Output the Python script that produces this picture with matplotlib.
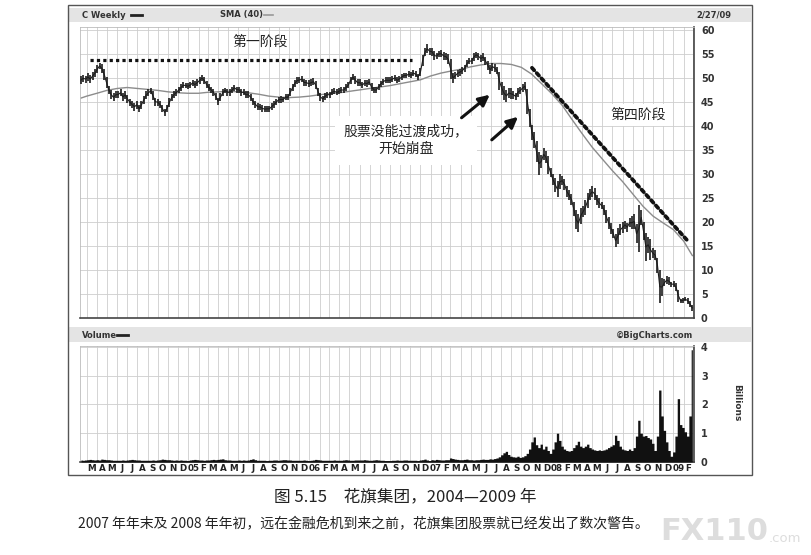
import matplotlib
matplotlib.use('Agg')
import matplotlib.pyplot as plt
import matplotlib.dates as mdates
from matplotlib.patches import Rectangle
from matplotlib.lines import Line2D
import numpy as np
import pandas as pd

plt.rcParams['font.family'] = ['DejaVu Sans']
CJK = ['Noto Sans CJK SC', 'DejaVu Sans']

# ---------------- data (weekly) ----------------
hi_2004 = [50.3, 50.6, 50.5,
           51.0, 50.6, 51.2, 51.8,
           52.6, 53.2, 52.9, 51.8, 50.2,
           48.4, 47.4, 46.8, 47.2,
           47.3, 47.6, 46.9, 47.2,
           46.4, 45.7, 45.2, 44.8, 45.2,
           44.3, 45.2, 46.2, 47.2,
           47.6, 48.0, 47.2, 45.9,
           45.7, 45.2, 44.4, 43.6, 44.4,
           45.8, 46.7, 47.2, 47.6,
           48.1, 48.7, 49.1, 49.0, 48.9]
lo_2004 = [48.8, 49.2, 49.0,
           49.4, 48.9, 49.6, 50.2,
           51.0, 51.8, 51.0, 49.6, 47.8,
           46.6, 45.6, 45.1, 45.8,
           45.8, 46.2, 45.2, 45.7,
           44.8, 44.2, 43.7, 43.2, 43.6,
           42.9, 43.6, 44.6, 45.6,
           46.2, 46.6, 45.3, 44.2,
           44.2, 43.7, 42.8, 42.1, 42.8,
           44.0, 45.1, 45.8, 46.3,
           46.8, 47.3, 47.8, 47.9, 47.6]
hi_2005 = [49.2, 49.6, 49.3, 49.7,
           50.1, 50.6, 50.2, 49.4,
           48.7, 48.2, 47.7, 46.9,
           45.9, 46.8, 47.6, 48.0, 47.7,
           47.7, 48.1, 48.6, 48.2,
           48.1, 47.7, 47.6, 47.2,
           47.2, 46.7, 45.9, 45.2, 44.7,
           44.6, 44.3, 44.1, 44.2,
           44.2, 44.7, 45.1, 45.6, 46.1,
           46.2, 46.1, 46.7, 46.6,
           47.8, 48.7, 49.6, 50.1,
           50.2, 50.4, 49.8, 49.6, 49.5]
lo_2005 = [47.8, 48.3, 47.9, 48.3,
           48.8, 49.3, 48.8, 47.9,
           47.3, 46.8, 46.3, 45.3,
           44.4, 45.2, 46.2, 46.8, 46.3,
           46.3, 46.8, 47.3, 46.9,
           46.9, 46.3, 46.4, 45.8,
           45.8, 45.2, 44.3, 43.8, 43.3,
           43.3, 43.0, 42.9, 42.9,
           42.9, 43.3, 43.8, 44.3, 44.8,
           44.8, 44.9, 45.3, 45.4,
           46.2, 47.2, 48.2, 48.8,
           48.9, 49.1, 48.3, 48.4, 48.1]
hi_2006 = [49.7, 49.9, 49.3, 48.0,
           46.9, 46.3, 46.8, 47.1,
           47.1, 47.6, 47.8, 47.6, 47.8,
           48.1, 48.1, 48.7, 49.2,
           50.2, 50.8, 50.3, 49.7,
           49.7, 49.2, 49.6, 49.5, 49.8,
           48.9, 48.2, 48.1, 48.8,
           49.4, 49.8, 50.1, 50.1,
           50.1, 50.3, 50.6, 50.1, 50.4,
           50.8, 51.1, 51.1, 51.4,
           51.2, 51.6, 51.4, 50.9,
           52.0, 54.8, 56.2, 57.0, 56.3]
lo_2006 = [48.3, 48.5, 47.7, 46.2,
           45.2, 44.9, 45.5, 45.9,
           45.9, 46.4, 46.6, 46.4, 46.6,
           46.9, 46.8, 47.3, 47.8,
           48.8, 49.5, 48.8, 48.3,
           48.3, 47.8, 48.3, 48.1, 48.5,
           47.3, 46.8, 46.8, 47.5,
           48.1, 48.6, 48.9, 48.9,
           48.9, 49.2, 49.4, 48.9, 49.2,
           49.6, 49.9, 49.9, 50.2,
           49.9, 50.4, 50.1, 49.5,
           50.3, 52.5, 54.6, 55.1, 54.8]
hi_2007 = [56.3, 55.5, 55.2, 55.7,
           55.8, 55.3, 55.2, 54.9,
           54.0, 51.0, 51.2, 51.7, 51.9,
           52.2, 52.7, 53.7, 54.2,
           54.2, 55.1, 55.4, 55.2,
           54.8, 55.1, 54.4, 53.5, 52.6,
           53.2, 52.9, 52.3, 51.2,
           49.2, 48.3, 47.5, 47.9, 47.8,
           47.3, 46.9, 48.0, 48.2,
           48.7, 49.2, 47.6, 43.6,
           40.2, 38.8, 36.8, 34.5, 34.0,
           35.3, 34.8, 33.7, 31.3]
lo_2007 = [54.6, 53.8, 53.9, 54.3,
           54.3, 53.8, 53.7, 52.8,
           49.8, 49.0, 49.7, 50.2, 50.5,
           50.8, 51.3, 52.2, 52.8,
           52.8, 53.6, 54.2, 53.8,
           53.3, 53.6, 52.7, 51.7, 50.8,
           51.5, 51.2, 50.8, 47.5,
           46.5, 45.3, 45.0, 45.8, 45.6,
           45.7, 45.4, 46.0, 46.6,
           47.1, 47.4, 42.5, 39.8,
           37.0, 35.3, 32.5, 29.8, 31.2,
           32.9, 32.2, 30.0, 29.3]
hi_2008 = [30.0, 29.2, 28.5, 29.9,
           29.6, 29.0, 27.4, 26.6, 25.9,
           24.2, 22.5, 21.6, 23.0,
           23.3, 24.6, 26.0, 26.9,
           27.5, 27.1, 25.6, 24.9, 24.2,
           23.6, 22.4, 21.0, 19.8,
           18.5, 17.4, 18.8, 19.5,
           19.9, 20.2, 19.8, 20.8, 21.2,
           21.6, 19.5, 23.5, 22.5,
           20.0, 17.8, 16.9, 16.4, 14.6,
           14.1, 12.5, 9.9, 8.3,
           8.1, 8.7, 8.5, 7.6]
lo_2008 = [27.8, 26.3, 25.1, 26.8,
           27.6, 26.7, 25.3, 24.5, 23.5,
           21.2, 18.5, 17.9, 19.6,
           21.0, 21.5, 22.9, 24.6,
           25.1, 24.6, 23.5, 22.9, 22.6,
           21.4, 19.8, 18.6, 17.5,
           16.6, 14.8, 15.4, 17.2,
           17.8, 18.6, 18.0, 18.9, 18.5,
           18.6, 15.6, 13.8, 19.4,
           16.2, 11.8, 13.6, 12.0, 12.4,
           12.1, 9.4, 3.1, 4.6,
           6.6, 7.1, 6.8, 6.5]
hi_2009 = [7.7, 7.2, 5.9, 4.0, 4.2, 4.3, 4.2, 3.5, 2.7]
lo_2009 = [6.4, 5.6, 3.4, 3.1, 3.2, 3.5, 3.0, 2.3, 1.5]

# weekly volume, billions of shares
vol_2004 = [0.07, 0.06, 0.07, 0.08, 0.09, 0.08, 0.07, 0.08, 0.07, 0.10, 0.09, 0.08,
            0.08, 0.07, 0.06, 0.06, 0.06, 0.06, 0.07, 0.06, 0.07, 0.08, 0.09, 0.08, 0.07,
            0.07, 0.06, 0.06, 0.06, 0.06, 0.06, 0.07, 0.06, 0.07, 0.08, 0.10, 0.09, 0.08,
            0.08, 0.07, 0.06, 0.07, 0.06, 0.07, 0.06, 0.06, 0.05]
vol_2005 = [0.07, 0.08, 0.09, 0.08, 0.07, 0.07, 0.06, 0.07, 0.07, 0.08, 0.09, 0.08,
            0.09, 0.10, 0.11, 0.08, 0.07, 0.07, 0.06, 0.06, 0.06, 0.07, 0.06, 0.07, 0.06,
            0.07, 0.09, 0.11, 0.08, 0.06, 0.06, 0.06, 0.06, 0.05, 0.06, 0.06, 0.07, 0.07,
            0.06, 0.07, 0.08, 0.08, 0.07, 0.07, 0.06, 0.06, 0.06, 0.06, 0.06, 0.07, 0.06, 0.05]
vol_2006 = [0.06, 0.07, 0.09, 0.08, 0.07, 0.06, 0.06, 0.06, 0.06, 0.06, 0.07, 0.06, 0.06,
            0.06, 0.07, 0.08, 0.07, 0.06, 0.06, 0.07, 0.07, 0.07, 0.07, 0.08, 0.07, 0.06,
            0.06, 0.07, 0.08, 0.07, 0.06, 0.06, 0.05, 0.05, 0.05, 0.06, 0.06, 0.07, 0.06,
            0.06, 0.07, 0.07, 0.06, 0.06, 0.06, 0.06, 0.05, 0.07, 0.08, 0.10, 0.07, 0.05]
vol_2007 = [0.08, 0.07, 0.09, 0.08, 0.07, 0.07, 0.08, 0.08, 0.14, 0.12, 0.10, 0.09, 0.08,
            0.08, 0.09, 0.10, 0.08, 0.08, 0.07, 0.08, 0.08, 0.09, 0.10, 0.09, 0.09, 0.11,
            0.10, 0.12, 0.14, 0.18, 0.25, 0.32, 0.37, 0.26, 0.20, 0.18, 0.17, 0.20, 0.16,
            0.18, 0.22, 0.30, 0.45, 0.70, 0.87, 0.60, 0.50, 0.62, 0.45, 0.55, 0.40, 0.30]
vol_2008 = [0.45, 0.70, 1.00, 0.75, 0.55, 0.45, 0.40, 0.38, 0.40, 0.50, 0.60, 0.72, 0.55,
            0.50, 0.55, 0.62, 0.50, 0.45, 0.42, 0.40, 0.42, 0.40, 0.42, 0.45, 0.50, 0.55,
            0.60, 0.93, 0.75, 0.55, 0.45, 0.42, 0.40, 0.45, 0.40, 0.50, 0.90, 1.45, 1.00,
            0.90, 0.92, 0.85, 0.80, 0.65, 0.40, 0.90, 2.50, 1.60, 1.10, 0.70, 0.40, 0.20]
vol_2009 = [0.35, 0.90, 2.20, 1.30, 1.20, 1.05, 0.90, 1.60, 3.90]

# 40-week simple moving average, read monthly
sma_vals = [45.8,
            46.2, 46.8, 47.4, 47.8, 48.0, 47.8, 47.6, 47.4, 47.1, 46.9,
            46.8, 46.8, 47.0, 47.1, 47.2, 47.1, 46.9, 46.6, 46.2, 46.0, 45.9, 46.0,
            46.2, 46.5, 46.7, 46.9, 47.2, 47.5, 47.8, 48.1, 48.4, 48.8, 49.2, 49.6,
            50.4, 51.0, 51.4, 51.8, 52.3, 52.7, 53.0, 53.0, 52.8, 52.2, 50.8, 48.8,
            46.7, 44.3, 41.4, 38.4, 35.6, 33.1, 30.7, 28.4, 25.8, 23.3, 21.2, 19.8,
            18.4, 16.0,
            13.0]

price_ticks = [0, 5, 10, 15, 20, 25, 30, 35, 40, 45, 50, 55, 60]
vol_ticks = [0, 1, 2, 3, 4]

# ---------------- assemble ----------------
hi = np.array(hi_2004 + hi_2005 + hi_2006 + hi_2007 + hi_2008 + hi_2009)
lo = np.array(lo_2004 + lo_2005 + lo_2006 + lo_2007 + lo_2008 + lo_2009)
vol = np.array(vol_2004 + vol_2005 + vol_2006 + vol_2007 + vol_2008 + vol_2009)
wk = pd.date_range(end='2009-02-27', periods=len(hi), freq='W-FRI')
wk_v = pd.date_range(end='2009-02-27', periods=len(vol), freq='W-FRI')
sma_dates = pd.DatetimeIndex([pd.Timestamp('2004-02-13')] +
                             list(pd.date_range('2004-03-01', periods=60, freq='MS')) +
                             [pd.Timestamp('2009-02-27')])
n = min(len(sma_dates), len(sma_vals))

def D(s):
    return mdates.date2num(pd.Timestamp(s))

W, H = 812, 555
fig = plt.figure(figsize=(W / 100, H / 100), dpi=100)

def fr(x0, y0, x1, y1):
    return [x0 / W, 1 - y1 / H, (x1 - x0) / W, (y1 - y0) / H]

# frame and header strips
fig.add_artist(Rectangle((69 / W, 1 - 22 / H), (751 - 69) / W, 14 / H,
                         transform=fig.transFigure, fc='#e4e4e4', ec='none', zorder=0))
fig.add_artist(Rectangle((69 / W, 1 - 342 / H), (751 - 69) / W, 15 / H,
                         transform=fig.transFigure, fc='#e4e4e4', ec='none', zorder=0))
fig.add_artist(Rectangle((68 / W, 1 - 475 / H), (752 - 68) / W, (475 - 5) / H,
                         transform=fig.transFigure, fill=False, ec='#555555', lw=1.0, zorder=1))

ax_p = fig.add_axes(fr(80, 27, 694, 318))
ax_v = fig.add_axes(fr(80, 346, 694, 462))

xlim = (pd.Timestamp('2004-02-10'), pd.Timestamp('2009-03-04'))
month_starts = pd.date_range('2004-03-01', '2009-03-01', freq='MS')
label_months = pd.date_range('2004-03-01', '2009-02-01', freq='MS')
centers = [m + pd.Timedelta(days=15) for m in label_months]
labels = [('%02d' % (m.year % 100)) if m.month == 1 else m.strftime('%b')[0] for m in label_months]

for ax in (ax_p, ax_v):
    ax.set_xlim(xlim)
    ax.set_xticks(month_starts)
    ax.grid(True, which='major', color='#cdcdcd', lw=0.6)
    ax.set_axisbelow(True)
    for s in ('left', 'top'):
        ax.spines[s].set_color('#bbbbbb')
        ax.spines[s].set_linewidth(0.6)
    for s in ('right', 'bottom'):
        ax.spines[s].set_color('#444444')
        ax.spines[s].set_linewidth(1.2)
    ax.yaxis.tick_right()
    ax.tick_params(axis='y', length=0, pad=5, labelsize=7, labelcolor='#333333')
    ax.tick_params(axis='x', which='both', length=0)

ax_p.tick_params(axis='x', labelbottom=False)
ax_v.set_xticklabels([])
ax_v.set_xticks(centers, minor=True)
ax_v.set_xticklabels(labels, minor=True)
ax_v.tick_params(axis='x', which='minor', labelsize=6.3, pad=1.5, labelcolor='#222222')
for t in ax_v.get_xticklabels(minor=True):
    t.set_fontweight('bold')

# price
ax_p.set_ylim(0, 60.6)
ax_p.set_yticks(price_ticks)
ax_p.vlines(wk, lo, hi, color='#1c1c1c', lw=1.2, zorder=3)
ax_p.plot(wk, (hi + lo) / 2, color='#1c1c1c', lw=0.8, zorder=3)
ax_p.plot(sma_dates[:n], sma_vals[:n], color='#8c8c8c', lw=1.0, zorder=2)

# volume
ax_v.set_ylim(0, 4.03)
ax_v.set_yticks(vol_ticks)
ax_v.fill_between(wk_v, 0, vol, step='mid', color='#111111', lw=0, zorder=3)

for ax in (ax_p, ax_v):
    for t in ax.get_yticklabels():
        t.set_fontweight('bold')

# annotations
ax_p.plot([D('2004-03-10'), D('2006-11-06')], [53.75, 53.75], color='#111111', lw=2.3,
          linestyle=(0, (1, 1.0)), dash_capstyle='butt', zorder=4)
ax_p.plot([D('2007-11-02'), D('2009-02-10')], [52.1, 16.3], color='#111111', lw=2.7,
          linestyle=(0, (0.9, 1.0)), dash_capstyle='round', zorder=4)
ax_p.text(D('2005-08-05'), 57.5, '第一阶段', ha='center', va='center', fontsize=10,
          family=CJK, color='#222222', zorder=5)
ax_p.text(D('2008-09-17'), 42.3, '第四阶段', ha='center', va='center', fontsize=10,
          family=CJK, color='#222222', zorder=5,
          bbox=dict(fc='white', ec='none', pad=3))
ax_p.text(D('2006-10-18'), 37.0, '股票没能过渡成功，\n开始崩盘', ha='center', va='center',
          fontsize=10, family=CJK, color='#222222', linespacing=1.35, zorder=5,
          bbox=dict(fc='white', ec='none', pad=6))
for tail, head in [((D('2007-04-04'), 41.7), (D('2007-06-28'), 46.5)),
                   ((D('2007-07-04'), 37.1), (D('2007-09-21'), 41.9))]:
    ax_p.annotate('', xy=head, xytext=tail, zorder=6,
                  arrowprops=dict(arrowstyle='-|>,head_width=0.32,head_length=0.65',
                                  color='#111111', lw=2.2, shrinkA=0, shrinkB=0))

# header texts
hdr = dict(fontsize=6.0, fontweight='bold', va='center', color='#333333')
fig.text(82 / W, 1 - 15 / H, 'C Weekly', **hdr)
fig.add_artist(Line2D([131 / W, 142 / W], [1 - 15 / H, 1 - 15 / H], transform=fig.transFigure,
                      color='#222222', lw=2))
fig.text(220 / W, 1 - 15 / H, 'SMA (40)', **hdr)
fig.add_artist(Line2D([264 / W, 273 / W], [1 - 15 / H, 1 - 15 / H], transform=fig.transFigure,
                      color='#999999', lw=1.2))
fig.text(731 / W, 1 - 15 / H, '2/27/09', ha='right', **hdr)
fig.text(82 / W, 1 - 335 / H, 'Volume', **hdr)
fig.add_artist(Line2D([117 / W, 128 / W], [1 - 335 / H, 1 - 335 / H], transform=fig.transFigure,
                      color='#222222', lw=2))
fig.text(693 / W, 1 - 335 / H, '©BigCharts.com', ha='right', **hdr)
fig.text(737 / W, 1 - 403 / H, 'Billions', rotation=270, ha='center', va='center',
         fontsize=6.5, fontweight='bold', color='#333333')

# captions
fig.text(405 / W, 1 - 497 / H, '图 5.15　花旗集团，2004—2009 年', ha='center', va='center',
         fontsize=12, family=CJK, color='#222222')
fig.text(78 / W, 1 - 524 / H,
         '2007 年年末及 2008 年年初，远在金融危机到来之前，花旗集团股票就已经发出了数次警告。',
         ha='left', va='center', fontsize=10, family=CJK, color='#222222')
fig.text(660 / W, 1 - 531 / H, 'FX110', fontsize=22, fontweight='bold', color='#dddddd',
         va='center', ha='left')
fig.text(769 / W, 1 - 538 / H, '.com', fontsize=9.5, color='#dddddd', va='center', ha='left')

fig.savefig('out.png', dpi=100, facecolor='white')
